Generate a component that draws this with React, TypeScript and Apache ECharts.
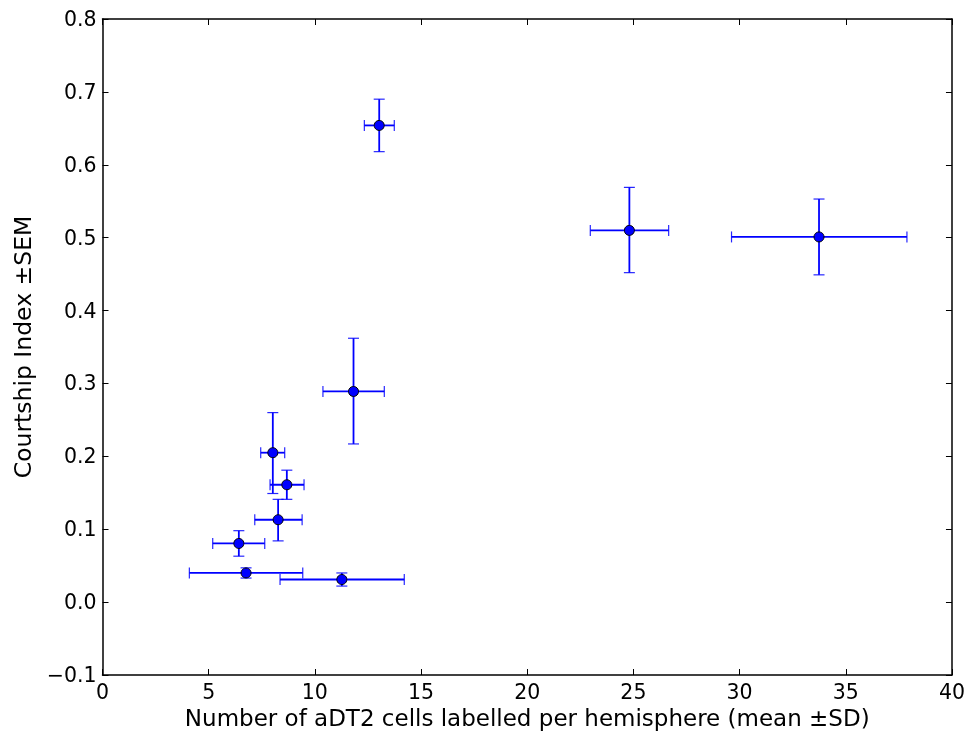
import React, { useEffect, useRef } from "react";
import * as echarts from "echarts";

const xMean = [6.76, 11.27, 6.42, 8.27, 8.68, 8.02, 11.82, 13.03, 24.81, 33.74];
const yMean = [0.04, 0.031, 0.0805, 0.113, 0.161, 0.205, 0.289, 0.654, 0.51, 0.501];
const xLow = [4.09, 8.36, 5.19, 7.17, 7.89, 7.45, 10.38, 12.33, 22.97, 29.62];
const xHigh = [9.43, 14.21, 7.64, 9.4, 9.49, 8.58, 13.27, 13.74, 26.66, 37.88];
const yLow = [0.033, 0.022, 0.063, 0.084, 0.141, 0.149, 0.217, 0.618, 0.452, 0.449];
const yHigh = [0.047, 0.04, 0.098, 0.141, 0.181, 0.26, 0.362, 0.69, 0.569, 0.553];

const xTitle = "Number of aDT2 cells labelled per hemisphere (mean ±SD)";
const yTitle = "Courtship Index ±SEM";

const FONT = "DejaVu Sans";
const BLUE = "#0000ff";

export default function App() {
  const ref = useRef<HTMLDivElement>(null);
  useEffect(() => {
    if (!ref.current) return;
    const chart = echarts.init(ref.current, null, { renderer: "svg" });
    const errData = xMean.map((x, i) => [x, yMean[i], xLow[i], xHigh[i], yLow[i], yHigh[i]]);
    const pts = xMean.map((x, i) => [x, yMean[i]]);
    const tickStyle = { show: true, inside: true, length: 6, lineStyle: { color: "#000", width: 1 } };
    const axisLine = { show: true, onZero: false, lineStyle: { color: "#000", width: 1.5 } };
    const yFmt = (v: number) => (v < -1e-9 ? "\u2212" : "") + Math.abs(v).toFixed(1);
    chart.setOption({
      animation: false,
      textStyle: { fontFamily: FONT },
      grid: { left: 102.5, right: 16, top: 19, bottom: 65, containLabel: false },
      xAxis: [
        {
          type: "value",
          min: 0,
          max: 40,
          interval: 5,
          position: "bottom",
          axisLine,
          axisTick: tickStyle,
          splitLine: { show: false },
          axisLabel: { color: "#000", fontSize: 20.5, fontFamily: FONT, margin: 6 },
          name: xTitle,
          nameLocation: "middle",
          nameGap: 29,
          nameTextStyle: { color: "#000", fontSize: 23, fontFamily: FONT },
        },
        {
          type: "value",
          min: 0,
          max: 40,
          interval: 5,
          position: "top",
          axisLine,
          axisTick: tickStyle,
          splitLine: { show: false },
          axisLabel: { show: false },
        },
      ],
      yAxis: [
        {
          type: "value",
          min: -0.1,
          max: 0.8,
          interval: 0.1,
          position: "left",
          axisLine,
          axisTick: tickStyle,
          splitLine: { show: false },
          axisLabel: { color: "#000", fontSize: 20.5, fontFamily: FONT, margin: 6, formatter: yFmt },
          name: yTitle,
          nameLocation: "middle",
          nameGap: 68,
          nameTextStyle: { color: "#000", fontSize: 23.5, fontFamily: FONT },
        },
        {
          type: "value",
          min: -0.1,
          max: 0.8,
          interval: 0.1,
          position: "right",
          axisLine,
          axisTick: tickStyle,
          splitLine: { show: false },
          axisLabel: { show: false },
        },
      ],
      series: [
        {
          type: "custom",
          silent: true,
          data: errData,
          encode: { x: 0, y: 1 },
          renderItem: (params: any, api: any) => {
            const x = api.value(0);
            const y = api.value(1);
            const c = api.coord([x, y]);
            const l = api.coord([api.value(2), y]);
            const r = api.coord([api.value(3), y]);
            const lo = api.coord([x, api.value(4)]);
            const hi = api.coord([x, api.value(5)]);
            const cap = 5.5;
            const main = { stroke: BLUE, lineWidth: 1.8 };
            const capS = { stroke: BLUE, lineWidth: 1.2, opacity: 0.85 };
            return {
              type: "group",
              children: [
                { type: "line", shape: { x1: l[0], y1: c[1], x2: r[0], y2: c[1] }, style: main },
                { type: "line", shape: { x1: c[0], y1: lo[1], x2: c[0], y2: hi[1] }, style: main },
                { type: "line", shape: { x1: l[0], y1: c[1] - cap, x2: l[0], y2: c[1] + cap }, style: capS },
                { type: "line", shape: { x1: r[0], y1: c[1] - cap, x2: r[0], y2: c[1] + cap }, style: capS },
                { type: "line", shape: { x1: c[0] - cap, y1: lo[1], x2: c[0] + cap, y2: lo[1] }, style: capS },
                { type: "line", shape: { x1: c[0] - cap, y1: hi[1], x2: c[0] + cap, y2: hi[1] }, style: capS },
              ],
            };
          },
          z: 2,
        },
        {
          type: "scatter",
          silent: true,
          data: pts,
          symbol: "circle",
          symbolSize: 10,
          itemStyle: { color: BLUE, borderColor: "#000", borderWidth: 1, opacity: 1 },
          z: 3,
        },
      ],
    });
    return () => chart.dispose();
  }, []);
  return <div ref={ref} style={{ position: "fixed", left: 0, top: 0, width: 968, height: 740 }} />;
}
